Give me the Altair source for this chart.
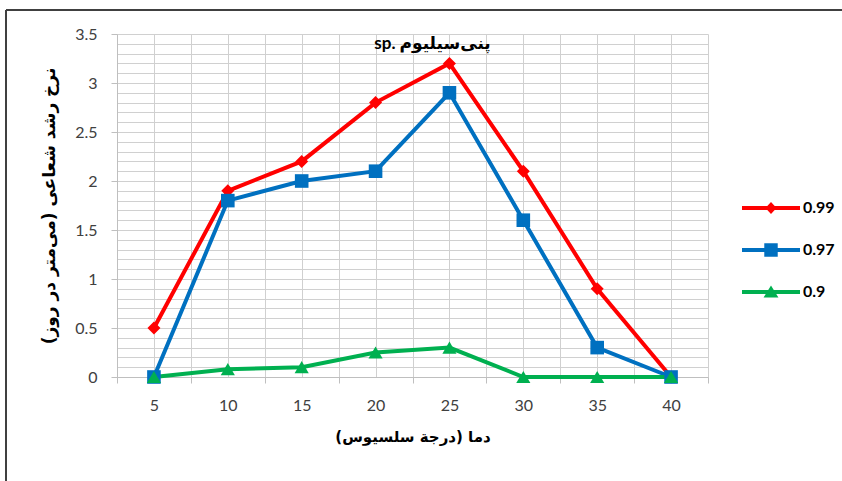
import altair as alt
import pandas as pd

# Temperature (°C) and radial growth rate (mm/day) for three water-activity levels
temps = [5, 10, 15, 20, 25, 30, 35, 40]
aw_099 = [0.5, 1.9, 2.2, 2.8, 3.2, 2.1, 0.9, 0.0]
aw_097 = [0.0, 1.8, 2.0, 2.1, 2.9, 1.6, 0.3, 0.0]
aw_090 = [0.0, 0.08, 0.1, 0.25, 0.3, 0.0, 0.0, 0.0]

series_names = ["0.99", "0.97", "0.9"]
series_colors = ["#FF0000", "#0070C0", "#00B050"]
marker_shapes = ["diamond", "square", "triangle-up"]
marker_sizes = [170, 200, 230]

# Legend glyphs: a short line with the series marker on it
legend_glyphs = [
    "M-2.5,-0.17H2.5V0.17H-2.5Z M0,-0.52L0.48,0L0,0.52L-0.48,0Z",
    "M-2.5,-0.17H2.5V0.17H-2.5Z M-0.58,-0.58H0.58V0.58H-0.58Z",
    "M-2.5,-0.17H2.5V0.17H-2.5Z M0,-0.57L0.64,0.48H-0.64Z",
]

x_grid = [2.5 + 2.5 * i for i in range(17)]
y_grid = [round(0.1 * i, 1) for i in range(36)]

rows = []
for name, vals in zip(series_names, [aw_099, aw_097, aw_090]):
    for t, v in zip(temps, vals):
        rows.append({"temp": t, "rate": v, "aw": name})
df = pd.DataFrame(rows)

FONT = "Lato, DejaVu Sans"
AR_FONT = "DejaVu Sans"
GRID = "#D0D0D0"

x_enc = alt.X(
    "temp:Q",
    scale=alt.Scale(domain=[2.5, 42.5], nice=False, zero=False),
    axis=alt.Axis(
        values=x_grid,
        tickCount=100,
        labelExpr="datum.value % 5 === 0 ? datum.value : ''",
        labelOverlap=False,
        tickOpacity={"condition": {"test": "datum.value % 5 === 0", "value": 0}, "value": 1},
        tickSize=6,
        tickColor="#BFBFBF",
        domainColor="#BFBFBF",
        gridColor=GRID,
        labelFont=FONT,
        labelFontSize=16,
        labelColor="#404040",
        labelPadding=14,
        title="دما (درجة سلسیوس)\u200f",
        titleFont=AR_FONT,
        titleFontSize=15,
        titleFontWeight="bold",
        titleColor="#000000",
        titlePadding=16,
    ),
)

y_enc = alt.Y(
    "rate:Q",
    scale=alt.Scale(domain=[0, 3.5], nice=False),
    axis=alt.Axis(
        values=y_grid,
        tickCount=100,
        labelExpr="round(datum.value * 10) % 5 === 0 ? format(datum.value, '~g') : ''",
        labelOverlap=False,
        tickOpacity={"condition": {"test": "round(datum.value * 10) % 5 !== 0", "value": 0}, "value": 1},
        tickSize=6,
        tickColor="#BFBFBF",
        domainColor="#BFBFBF",
        gridColor=GRID,
        labelFont=FONT,
        labelFontSize=16,
        labelColor="#404040",
        labelPadding=14,
        title="نرخ رشد شعاعی (می‌متر در روز)\u200f",
        titleFont=AR_FONT,
        titleFontSize=17,
        titleFontWeight="bold",
        titleColor="#000000",
        titlePadding=16,
    ),
)

base = alt.Chart(df)

lines = base.mark_line(strokeWidth=4).encode(
    x=x_enc,
    y=y_enc,
    color=alt.Color("aw:N", scale=alt.Scale(domain=series_names, range=series_colors), legend=None),
    detail="aw:N",
)

points = base.mark_point(filled=True, opacity=1).encode(
    x="temp:Q",
    y="rate:Q",
    color=alt.Color("aw:N", scale=alt.Scale(domain=series_names, range=series_colors), legend=None),
    shape=alt.Shape("aw:N", scale=alt.Scale(domain=series_names, range=marker_shapes), legend=None),
    size=alt.Size("aw:N", scale=alt.Scale(domain=series_names, range=marker_sizes), legend=None),
)

legend_props = dict(
    orient="none",
    legendX=642,
    legendY=162,
    title=None,
    padding=0,
    symbolSize=538,
    symbolStrokeWidth=0,
    labelOffset=20,
    rowPadding=22,
    labelFont=FONT,
    labelFontSize=16,
    labelFontWeight="bold",
    labelColor="#000000",
)

# Carries the legend only: no rows reach its marks
legend_layer = base.mark_point(filled=True, opacity=1).encode(
    x="temp:Q",
    y="rate:Q",
    color=alt.Color(
        "aw:N",
        scale=alt.Scale(domain=series_names, range=series_colors),
        legend=alt.Legend(**legend_props),
    ),
    shape=alt.Shape(
        "aw:N",
        scale=alt.Scale(domain=series_names, range=legend_glyphs),
        legend=alt.Legend(**legend_props),
    ),
).transform_filter("false")

# Outer frame of the figure (top and left edges)
frame_top = base.mark_rule(color="#404040", strokeWidth=2).encode(
    x=alt.value(-111), x2=alt.value(760), y=alt.value(-24)
)
frame_left = base.mark_rule(color="#404040", strokeWidth=2).encode(
    x=alt.value(-111), y=alt.value(-24), y2=alt.value(460)
)

chart = (
    alt.layer(lines, points, legend_layer, frame_top, frame_left)
    .resolve_scale(color="independent", shape="independent", size="independent")
    .properties(
        width=591,
        height=343,
        autosize=alt.AutoSizeParams(type="none"),
        padding={"left": 117, "top": 34, "right": 134, "bottom": 104},
        background="#FFFFFF",
        title=alt.TitleParams(
            text="sp. پنی‌سیلیوم",
            font=FONT,
            fontSize=17,
            fontWeight="bold",
            color="#000000",
            anchor="middle",
            frame="group",
            dx=20,
            offset=-44,
        ),
    )
    .configure_view(stroke=None)
)

chart.save("out.html", embed_options={"renderer": "svg", "actions": False})
